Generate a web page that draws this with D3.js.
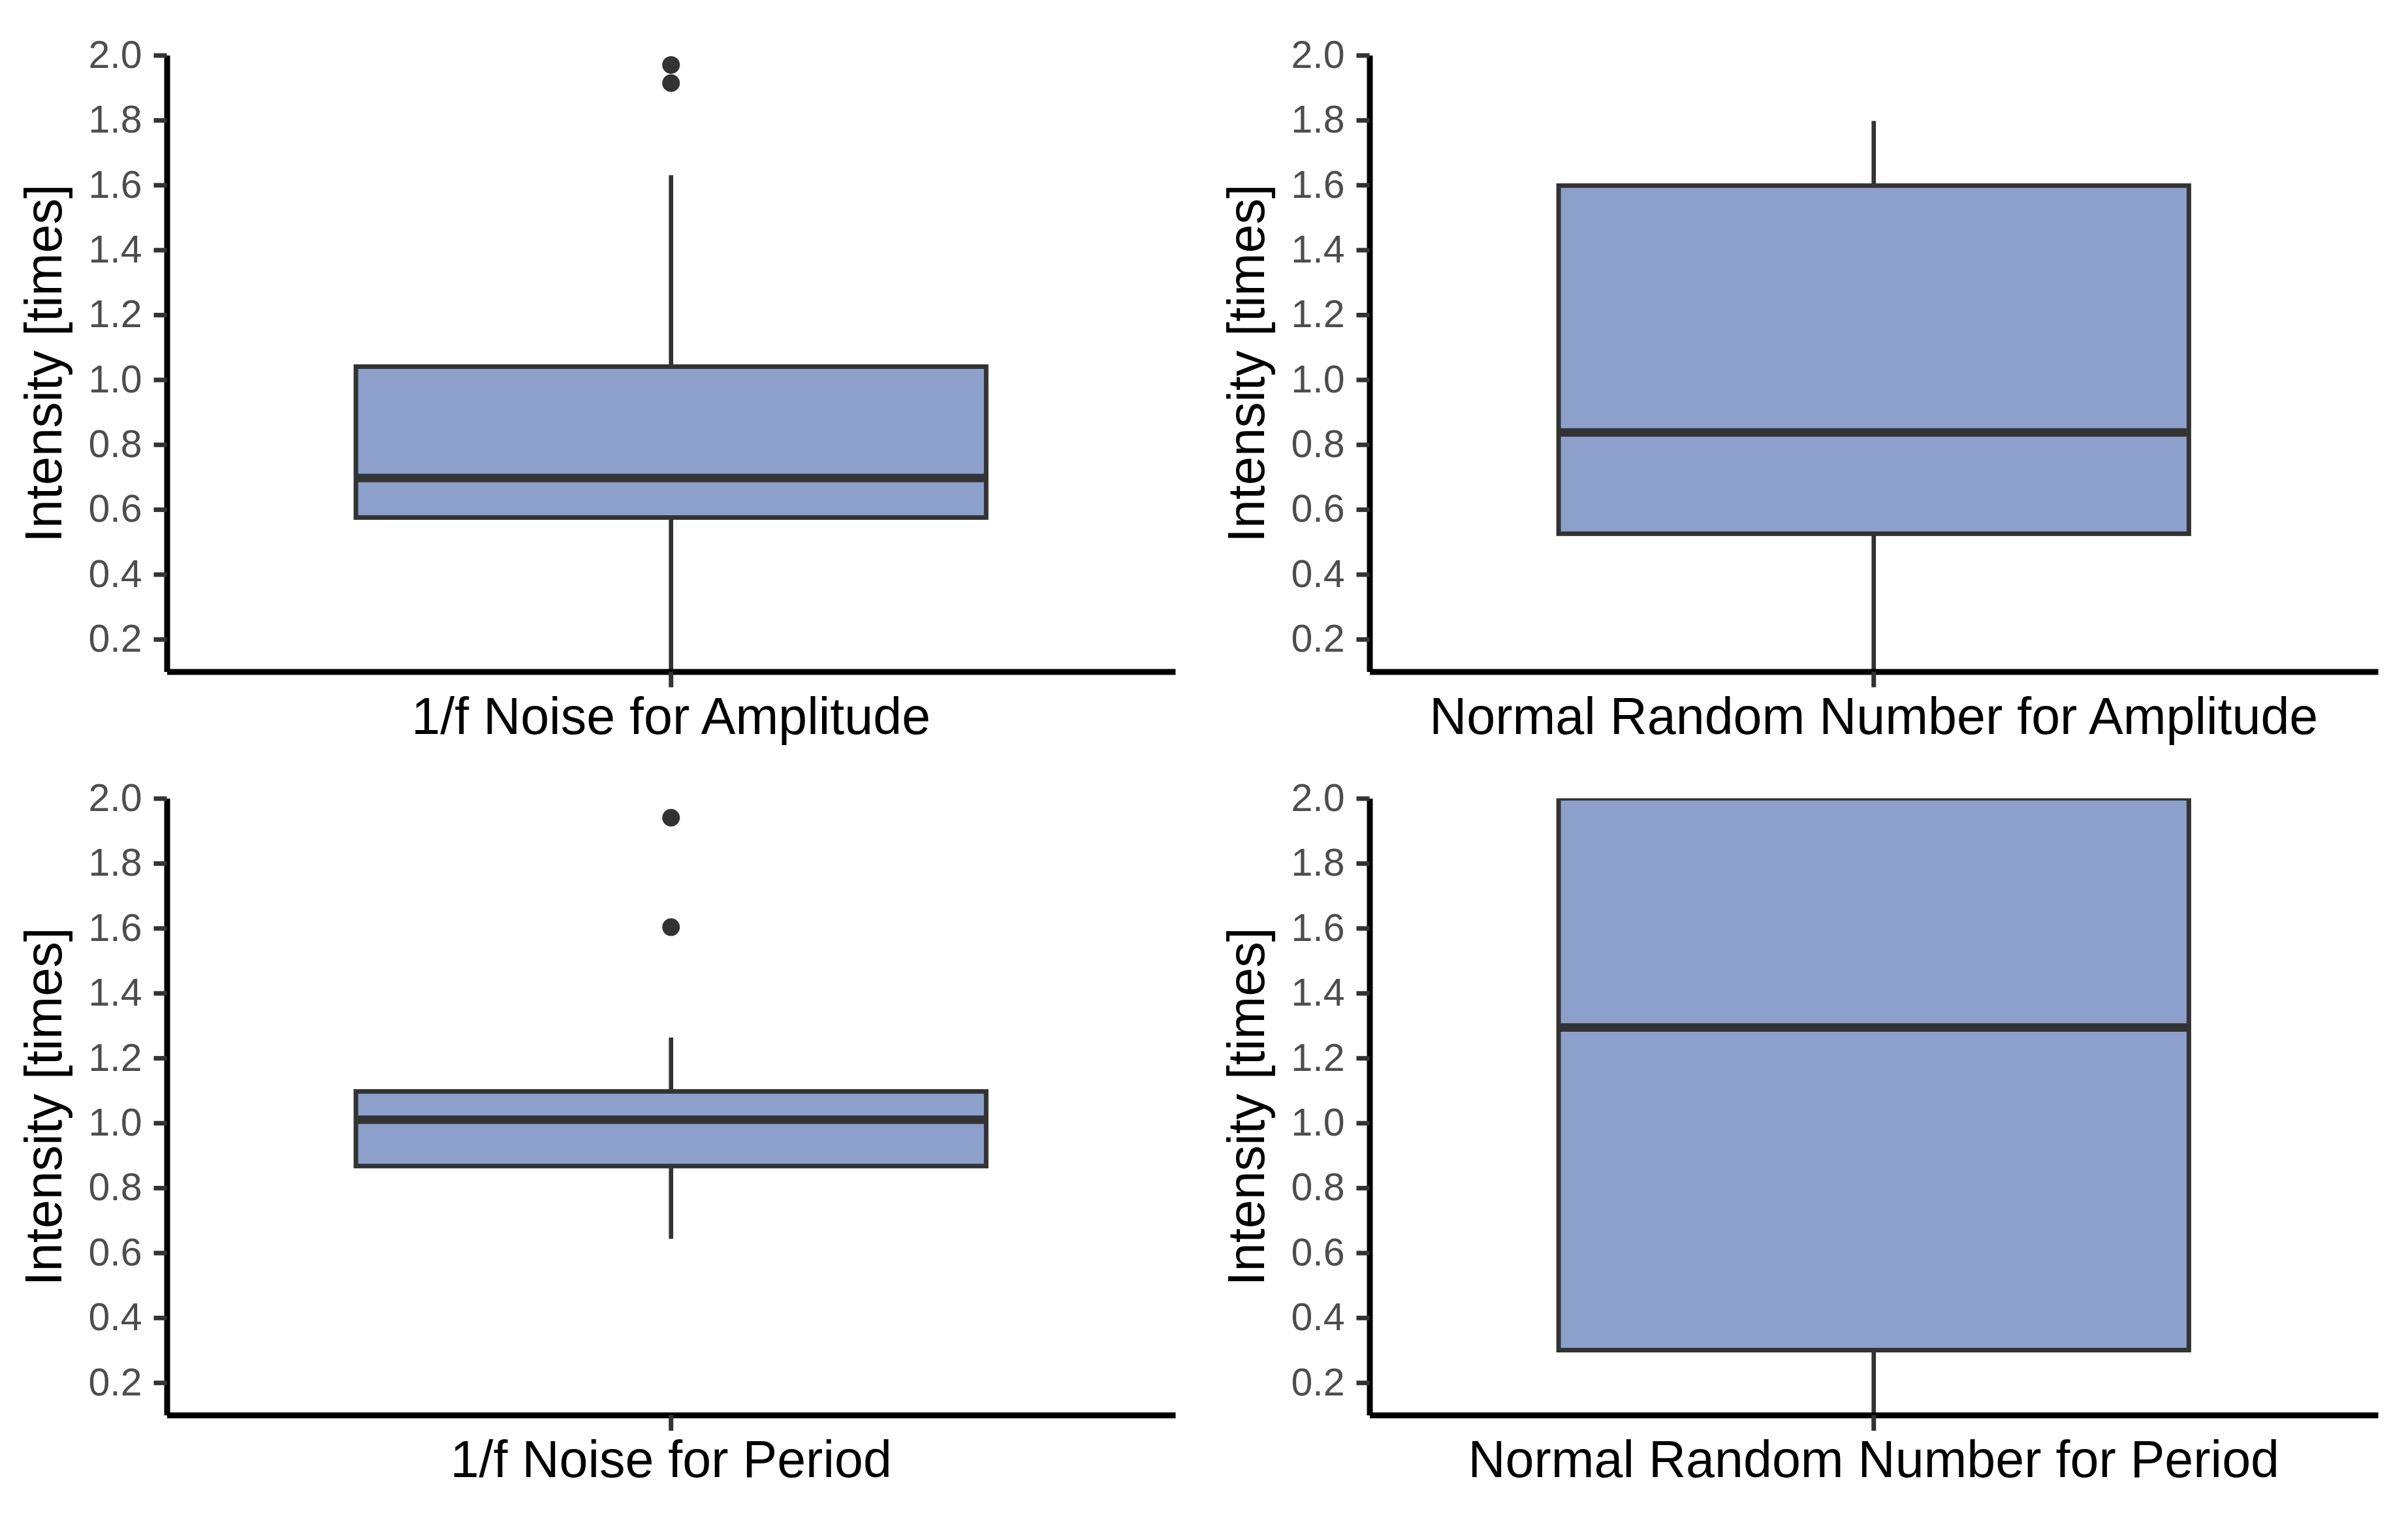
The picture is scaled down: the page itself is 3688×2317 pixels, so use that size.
<!DOCTYPE html>
<html>
<head>
<meta charset="utf-8">
<script src="https://cdn.jsdelivr.net/npm/d3@7"></script>
<style>
  html, body { margin: 0; padding: 0; background: #fff; }
  svg { display: block; }
</style>
</head>
<body>
<svg id="chart" width="3688" height="2317"></svg>
<script>
// box statistics (one entry per panel)
const panelNames = [
  "1/f Noise for Amplitude",
  "Normal Random Number for Amplitude",
  "1/f Noise for Period",
  "Normal Random Number for Period"
];
const lowerWhisker = [0.1, 0.1, 0.643, 0.1];
const lowerHinge = [0.575, 0.525, 0.867, 0.3];
const medians = [0.697, 0.837, 1.01, 1.294];
const upperHinge = [1.04, 1.598, 1.097, 2.0];
const upperWhisker = [1.63, 1.797, 1.263, 2.0];
const outliers = [[1.97, 1.914], [], [1.94, 1.603], []];
const yTicks = [0.2, 0.4, 0.6, 0.8, 1.0, 1.2, 1.4, 1.6, 1.8, 2.0];
const yTitle = "Intensity [times]";

const svg = d3.select("#chart");
const font = "'Liberation Sans', Arial, Helvetica, sans-serif";

// panel frames: [left, right], [top, bottom]
const cols = [[255.5, 1800], [2097.5, 3642]];
const rows = [[84.5, 1028.5], [1222.5, 2167]];

panelNames.forEach((name, i) => {
  const [x0, x1] = cols[i % 2];
  const [y0, y1] = rows[Math.floor(i / 2)];

  const y = d3.scaleLinear().domain([0.1, 2.0]).range([y1, y0]);
  const x = d3.scaleBand().domain([name]).range([x0, x1])
    .paddingInner(0).paddingOuter(0.3);
  const cx = x(name) + x.bandwidth() / 2;

  const g = svg.append("g");
  const clipId = "clip" + i;
  g.append("clipPath").attr("id", clipId)
    .append("rect")
    .attr("x", x0).attr("y", y0)
    .attr("width", x1 - x0).attr("height", y1 - y0);

  const marks = g.append("g").attr("clip-path", `url(#${clipId})`);

  // whiskers
  marks.append("line")
    .attr("x1", cx).attr("x2", cx)
    .attr("y1", y(upperWhisker[i])).attr("y2", y(upperHinge[i]))
    .attr("stroke", "#333333").attr("stroke-width", 6.7);
  marks.append("line")
    .attr("x1", cx).attr("x2", cx)
    .attr("y1", y(lowerHinge[i])).attr("y2", y(lowerWhisker[i]))
    .attr("stroke", "#333333").attr("stroke-width", 6.7);

  // box
  marks.append("rect")
    .attr("x", x(name))
    .attr("y", y(upperHinge[i]))
    .attr("width", x.bandwidth())
    .attr("height", y(lowerHinge[i]) - y(upperHinge[i]))
    .attr("fill", "#8DA0CB")
    .attr("stroke", "#333333")
    .attr("stroke-width", 7);

  // median
  marks.append("line")
    .attr("x1", x(name)).attr("x2", x(name) + x.bandwidth())
    .attr("y1", y(medians[i])).attr("y2", y(medians[i]))
    .attr("stroke", "#333333").attr("stroke-width", 13);

  // outliers
  marks.selectAll("circle.out")
    .data(outliers[i])
    .join("circle")
    .attr("class", "out")
    .attr("cx", cx)
    .attr("cy", d => y(d))
    .attr("r", 13.5)
    .attr("fill", "#333333");

  // y axis
  const yAxis = g.append("g")
    .attr("transform", `translate(${x0},0)`)
    .call(d3.axisLeft(y).tickValues(yTicks)
      .tickFormat(d3.format(".1f"))
      .tickSizeOuter(0).tickSizeInner(20).tickPadding(18));
  yAxis.select(".domain").attr("stroke", "#000").attr("stroke-width", 9);
  yAxis.selectAll(".tick line").attr("stroke", "#333333").attr("stroke-width", 7);
  yAxis.selectAll(".tick text")
    .attr("fill", "#4D4D4D")
    .attr("font-family", font)
    .attr("font-size", 59);

  // x axis
  const xAxis = g.append("g")
    .attr("transform", `translate(0,${y1})`)
    .call(d3.axisBottom(x).tickFormat("")
      .tickSizeOuter(0).tickSizeInner(24));
  xAxis.select(".domain").attr("stroke", "#000").attr("stroke-width", 9);
  xAxis.selectAll(".tick line").attr("stroke", "#333333").attr("stroke-width", 7);

  // titles
  g.append("text")
    .attr("x", (x0 + x1) / 2)
    .attr("y", y1 + 95)
    .attr("text-anchor", "middle")
    .attr("font-family", font)
    .attr("font-size", 79)
    .attr("fill", "#000")
    .text(name);

  g.append("text")
    .attr("transform", `translate(${x0 - 162},${(y0 + y1) / 2}) rotate(-90)`)
    .attr("text-anchor", "middle")
    .attr("font-family", font)
    .attr("font-size", 79)
    .attr("fill", "#000")
    .text(yTitle);
});
</script>
</body>
</html>
